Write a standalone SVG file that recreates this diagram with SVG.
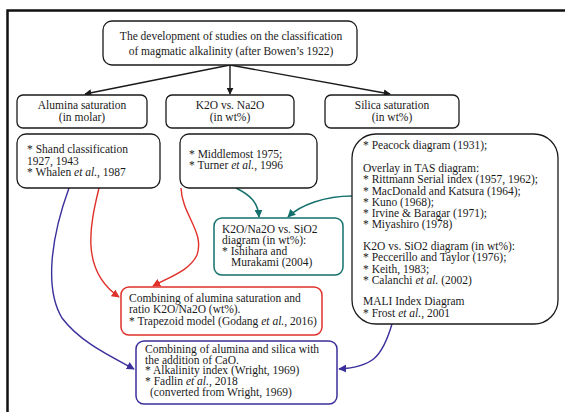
<svg xmlns="http://www.w3.org/2000/svg" width="565" height="412" viewBox="0 0 565 412">
<defs>
<style>
text{font-family:"Liberation Serif","Times New Roman",serif;font-size:11.5px;fill:#1a1a1a}
.c{text-anchor:middle}
.box{fill:#fff;stroke:#1a1a1a;stroke-width:1.3}
.teal{fill:#fff;stroke:#13706d;stroke-width:1.5}
.red{fill:#fff;stroke:#e0302a;stroke-width:1.5}
.pur{fill:#fff;stroke:#3b2f9c;stroke-width:1.5}
.k{fill:none;stroke:#1a1a1a;stroke-width:1.4}
.lt{fill:none;stroke:#13706d;stroke-width:1.5}
.lr{fill:none;stroke:#e0302a;stroke-width:1.4}
.lp{fill:none;stroke:#3b2f9c;stroke-width:1.4}
</style>
<marker id="ak" viewBox="0 0 10 10" refX="9" refY="5" markerWidth="7" markerHeight="7" markerUnits="userSpaceOnUse" orient="auto"><path d="M0,0L10,5L0,10z" fill="#1a1a1a"/></marker>
<marker id="at" viewBox="0 0 10 10" refX="9" refY="5" markerWidth="8" markerHeight="8" markerUnits="userSpaceOnUse" orient="auto"><path d="M0,0L10,5L0,10z" fill="#13706d"/></marker>
<marker id="ar" viewBox="0 0 10 10" refX="9" refY="5" markerWidth="8" markerHeight="8" markerUnits="userSpaceOnUse" orient="auto"><path d="M0,0L10,5L0,10z" fill="#e0302a"/></marker>
<marker id="ap" viewBox="0 0 10 10" refX="9" refY="5" markerWidth="8" markerHeight="8" markerUnits="userSpaceOnUse" orient="auto"><path d="M0,0L10,5L0,10z" fill="#3b2f9c"/></marker>
</defs>
<rect width="565" height="412" fill="#fff"/>
<path d="M7.5 412V10.5H565" fill="none" stroke="#111" stroke-width="2.5"/>

<g id="connectors">
<path class="k" d="M230 65L85 94" marker-end="url(#ak)"/>
<path class="k" d="M230 65V94" marker-end="url(#ak)"/>
<path class="k" d="M230 65L390 94" marker-end="url(#ak)"/>
<path class="lt" d="M236 188C250 195 258 202 259 217" marker-end="url(#at)"/>
<path class="lt" d="M352 196C325 196 300 205 288 217" marker-end="url(#at)"/>
<path class="lr" d="M99 188C90 225 80 270 119 297" marker-end="url(#ar)"/>
<path class="lr" d="M181 188C182 215 205 232 197 255C190 270 172 276 153 286" marker-end="url(#ar)"/>
<path class="lp" d="M69 188C50 240 45 290 62 318C80 342 110 356 134 369" marker-end="url(#ap)"/>
<path class="lp" d="M392 324C382 358 372 367 339 369" marker-end="url(#ap)"/>
</g>

<g id="main">
<rect class="box" x="103" y="21" width="254" height="44" rx="9"/>
<text class="c" x="231" y="40">The development of studies on the classification</text>
<text class="c" x="231" y="55">of magmatic alkalinity (after Bowen’s 1922)</text>
</g>

<g id="alumina">
<rect class="box" x="17" y="95" width="130" height="33" rx="6"/>
<text class="c" x="82" y="109">Alumina saturation</text>
<text class="c" x="82" y="121">(in molar)</text>
</g>
<g id="k2o">
<rect class="box" x="166" y="95" width="128" height="33" rx="6"/>
<text class="c" x="230" y="109">K2O vs. Na2O</text>
<text class="c" x="230" y="121">(in wt%)</text>
</g>
<g id="silica">
<rect class="box" x="325" y="95" width="134" height="33" rx="6"/>
<text class="c" x="392" y="109">Silica saturation</text>
<text class="c" x="392" y="121">(in wt%)</text>
</g>

<g id="shand">
<rect class="box" x="17" y="134" width="143" height="54" rx="9"/>
<text x="27" y="153">* Shand classification</text>
<text x="27" y="164.5">1927, 1943</text>
<text x="27" y="176">* Whalen <tspan font-style="italic">et al.</tspan>, 1987</text>
</g>
<g id="middlemost">
<rect class="box" x="180" y="134" width="137" height="54" rx="9"/>
<text x="189" y="158">* Middlemost 1975;</text>
<text x="189" y="169">* Turner <tspan font-style="italic">et al.</tspan>, 1996</text>
</g>
<g id="silicalist">
<rect class="box" x="352" y="134" width="206" height="190" rx="24"/>
<text x="363" y="149">* Peacock diagram (1931);</text>
<text x="363" y="172">Overlay in TAS diagram:</text>
<text x="363" y="183">* Rittmann Serial index (1957, 1962);</text>
<text x="363" y="194.5">* MacDonald and Katsura (1964);</text>
<text x="363" y="205.5">* Kuno (1968);</text>
<text x="363" y="217">* Irvine &amp; Baragar (1971);</text>
<text x="363" y="228">* Miyashiro (1978)</text>
<text x="363" y="250">K2O vs. SiO2 diagram (in wt%):</text>
<text x="363" y="261">* Peccerillo and Taylor (1976);</text>
<text x="363" y="272.5">* Keith, 1983;</text>
<text x="363" y="283.5">* Calanchi <tspan font-style="italic">et al.</tspan> (2002)</text>
<text x="363" y="305">MALI Index Diagram</text>
<text x="363" y="316.5">*  Frost <tspan font-style="italic">et al.</tspan>, 2001</text>
</g>
<g id="ishihara">
<rect class="teal" x="214" y="218" width="129" height="57" rx="8"/>
<text x="222" y="233">K2O/Na2O vs. SiO2</text>
<text x="222" y="244">diagram (in wt%):</text>
<text x="222" y="255">* Ishihara and</text>
<text x="231" y="266">Murakami (2004)</text>
</g>
<g id="trapezoid">
<rect class="red" x="121" y="287" width="201" height="48" rx="8"/>
<text x="129" y="302">Combining of alumina saturation and</text>
<text x="129" y="313">ratio K2O/Na2O (wt%).</text>
<text x="129" y="324.5">* Trapezoid model (Godang <tspan font-style="italic">et al.</tspan>, 2016)</text>
</g>
<g id="wright">
<rect class="pur" x="136" y="341" width="201" height="63" rx="8"/>
<text x="145" y="352.5">Combining of alumina and silica with</text>
<text x="145" y="363.5">the addition of CaO.</text>
<text x="145" y="374">* Alkalinity index (Wright, 1969)</text>
<text x="145" y="385">* Fadlin <tspan font-style="italic">et al.</tspan>, 2018</text>
<text x="150" y="396">(converted from Wright, 1969)</text>
</g>
</svg>
